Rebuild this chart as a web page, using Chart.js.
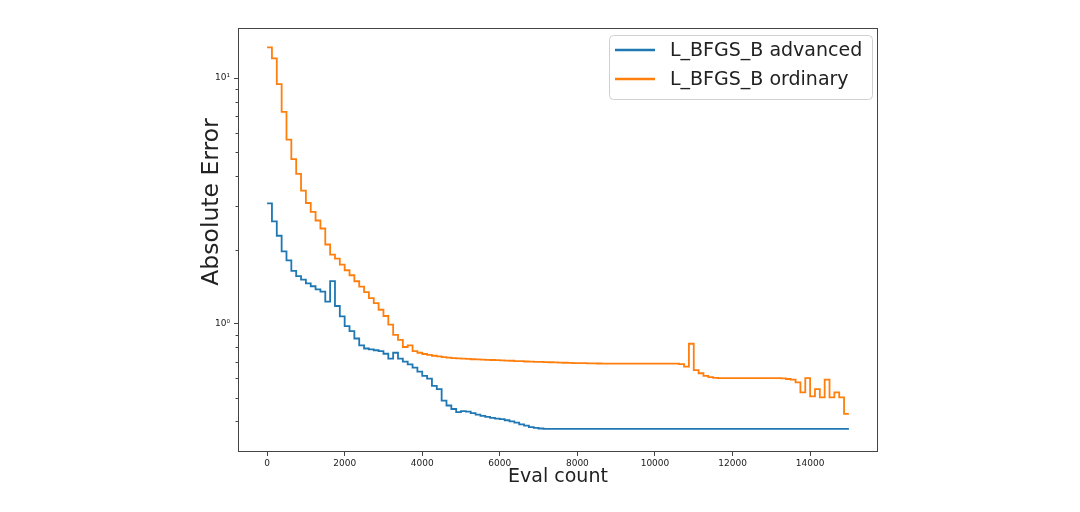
<!DOCTYPE html>
<html>
<head>
<meta charset="utf-8">
<script src="https://cdn.jsdelivr.net/npm/chart.js@4.4.0/dist/chart.umd.min.js"></script>
<style>
  html, body { margin: 0; background: #fff; }
</style>
</head>
<body>
<canvas id="chart" width="1080" height="512"></canvas>
<script>
// evaluation counts (x), one step every 125 evals
const evals = [
  0, 125, 250, 375, 500, 625, 750, 875, 1000, 1125, 1250, 1375, 1500, 1625, 1750, 1875,
  2000, 2125, 2250, 2375, 2500, 2625, 2750, 2875, 3000, 3125, 3250, 3375, 3500, 3625, 3750, 3875,
  4000, 4125, 4250, 4375, 4500, 4625, 4750, 4875, 5000, 5125, 5250, 5375, 5500, 5625, 5750, 5875,
  6000, 6125, 6250, 6375, 6500, 6625, 6750, 6875, 7000, 7125, 7250, 7375, 7500, 7625, 7750, 7875,
  8000, 8125, 8250, 8375, 8500, 8625, 8750, 8875, 9000, 9125, 9250, 9375, 9500, 9625, 9750, 9875,
  10000, 10125, 10250, 10375, 10500, 10625, 10750, 10875, 11000, 11125, 11250, 11375, 11500, 11625, 11750, 11875,
  12000, 12125, 12250, 12375, 12500, 12625, 12750, 12875, 13000, 13125, 13250, 13375, 13500, 13625, 13750, 13875,
  14000, 14125, 14250, 14375, 14500, 14625, 14750, 14875, 15000
]

const advanced = [
  3.09, 2.61, 2.28, 1.97, 1.81, 1.64, 1.56, 1.51, 1.46, 1.42, 1.38, 1.35, 1.23, 1.49, 1.18, 1.07,
  0.976, 0.932, 0.870, 0.815, 0.792, 0.785, 0.779, 0.773, 0.754, 0.720, 0.761, 0.720, 0.700, 0.683, 0.662, 0.638,
  0.613, 0.597, 0.558, 0.541, 0.486, 0.464, 0.449, 0.436, 0.440, 0.438, 0.432, 0.426, 0.421, 0.417, 0.413, 0.410,
  0.408, 0.404, 0.400, 0.395, 0.389, 0.384, 0.379, 0.376, 0.374, 0.373, 0.373, 0.373, 0.373, 0.373, 0.373, 0.373,
  0.373, 0.373, 0.373, 0.373, 0.373, 0.373, 0.373, 0.373, 0.373, 0.373, 0.373, 0.373, 0.373, 0.373, 0.373, 0.373,
  0.373, 0.373, 0.373, 0.373, 0.373, 0.373, 0.373, 0.373, 0.373, 0.373, 0.373, 0.373, 0.373, 0.373, 0.373, 0.373,
  0.373, 0.373, 0.373, 0.373, 0.373, 0.373, 0.373, 0.373, 0.373, 0.373, 0.373, 0.373, 0.373, 0.373, 0.373, 0.373,
  0.373, 0.373, 0.373, 0.373, 0.373, 0.373, 0.373, 0.373, 0.373
]

const ordinary = [
  13.35, 12.04, 9.46, 7.29, 5.62, 4.68, 4.07, 3.48, 3.10, 2.85, 2.63, 2.44, 2.10, 1.91, 1.84, 1.74,
  1.65, 1.574, 1.488, 1.414, 1.343, 1.270, 1.212, 1.139, 1.074, 0.991, 0.900, 0.859, 0.803, 0.815, 0.773, 0.761,
  0.752, 0.746, 0.740, 0.735, 0.731, 0.727, 0.724, 0.722, 0.720, 0.718, 0.716, 0.715, 0.713, 0.712, 0.711, 0.710,
  0.709, 0.707, 0.706, 0.704, 0.703, 0.701, 0.700, 0.699, 0.698, 0.697, 0.696, 0.695, 0.694, 0.693, 0.692, 0.691,
  0.690, 0.690, 0.689, 0.689, 0.688, 0.687, 0.687, 0.687, 0.687, 0.687, 0.687, 0.687, 0.687, 0.687, 0.687, 0.687,
  0.687, 0.687, 0.687, 0.687, 0.687, 0.684, 0.668, 0.828, 0.646, 0.628, 0.613, 0.605, 0.601, 0.600, 0.600, 0.600,
  0.600, 0.600, 0.600, 0.600, 0.600, 0.600, 0.600, 0.600, 0.600, 0.600, 0.598, 0.595, 0.591, 0.576, 0.525, 0.600,
  0.505, 0.541, 0.501, 0.591, 0.501, 0.525, 0.501, 0.429, 0.429
]

const xTicks = [0, 2000, 4000, 6000, 8000, 10000, 12000, 14000]
const yMajorTicks = [1, 10]
const yMinorTicks = [0.4, 0.5, 0.6, 0.7, 0.8, 0.9, 2, 3, 4, 5, 6, 7, 8, 9]
const yTickLabels = ['10⁰', '10¹']

const seriesNames = ['L_BFGS_B advanced', 'L_BFGS_B ordinary']
const seriesColors = ['#1f77b4', '#ff7f0e']

const FONT = 'DejaVu Sans'
const TEXT = '#222'
const AXIS = '#444'

// box round the plot, minor ticks on the log axis, y label, legend
const extras = {
  id: 'extras',
  afterDraw(chart) {
    const ctx = chart.ctx
    const a = chart.chartArea
    const ys = chart.scales.y
    ctx.save()

    ctx.strokeStyle = AXIS
    ctx.lineWidth = 1
    ctx.strokeRect(Math.round(a.left) + 0.5, Math.round(a.top) + 0.5,
      Math.round(a.right - a.left) - 1, Math.round(a.bottom - a.top) - 1)

    ctx.beginPath()
    yMinorTicks.forEach(v => {
      const py = Math.round(ys.getPixelForValue(v)) + 0.5
      ctx.moveTo(a.left - 2.5, py)
      ctx.lineTo(a.left, py)
    })
    ctx.stroke()

    ctx.fillStyle = TEXT
    ctx.font = '23.5px "' + FONT + '"'
    ctx.textAlign = 'center'
    ctx.textBaseline = 'middle'
    ctx.translate(212, 202)
    ctx.rotate(-Math.PI / 2)
    ctx.fillText('Absolute Error', 0, 0)
    ctx.restore()

    // legend
    ctx.save()
    const bx = a.right - 269, by = a.top + 7, bw = 263, bh = 64
    ctx.beginPath()
    ctx.roundRect(bx + 0.5, by + 0.5, bw, bh, 4)
    ctx.fillStyle = 'rgba(255,255,255,0.8)'
    ctx.fill()
    ctx.strokeStyle = '#d0d0d0'
    ctx.lineWidth = 1
    ctx.stroke()
    ctx.font = '19px "' + FONT + '"'
    ctx.textAlign = 'left'
    ctx.textBaseline = 'middle'
    seriesNames.forEach((name, i) => {
      const ly = by + 15 + i * 29
      ctx.strokeStyle = seriesColors[i]
      ctx.lineWidth = 2.5
      ctx.beginPath()
      ctx.moveTo(bx + 6, ly)
      ctx.lineTo(bx + 46, ly)
      ctx.stroke()
      ctx.fillStyle = TEXT
      ctx.fillText(name, bx + 61, ly + 1)
    })
    ctx.restore()
  }
}

new Chart(document.getElementById('chart'), {
  type: 'line',
  data: {
    datasets: seriesNames.map((name, i) => ({
      label: name,
      data: evals.map((x, j) => ({ x: x, y: (i === 0 ? advanced : ordinary)[j] })),
      borderColor: seriesColors[i],
      borderWidth: 1.8,
      stepped: true,
      pointRadius: 0,
      fill: false
    }))
  },
  options: {
    responsive: false,
    animation: false,
    devicePixelRatio: 1,
    layout: { padding: { top: 28, right: 202, bottom: 0, left: 0 } },
    plugins: {
      legend: { display: false },
      tooltip: { enabled: false }
    },
    scales: {
      x: {
        type: 'linear',
        min: -750,
        max: 15750,
        afterBuildTicks: s => { s.ticks = xTicks.map(v => ({ value: v })) },
        afterFit: s => { s.height = 60 },
        grid: { drawOnChartArea: false, tickLength: 4, tickColor: AXIS },
        border: { display: false },
        ticks: {
          autoSkip: false,
          maxRotation: 0,
          padding: 2,
          color: TEXT,
          font: { family: FONT, size: 9 },
          callback: v => String(v)
        },
        title: {
          display: true,
          text: 'Eval count',
          color: TEXT,
          font: { family: FONT, size: 19 },
          padding: { top: 0, bottom: 24 }
        }
      },
      y: {
        type: 'logarithmic',
        min: 0.309,
        max: 16.0,
        afterBuildTicks: s => { s.ticks = yMajorTicks.map(v => ({ value: v, major: true })) },
        afterFit: s => { s.width = 238 },
        grid: { drawOnChartArea: false, tickLength: 4, tickColor: AXIS },
        border: { display: false },
        ticks: {
          autoSkip: false,
          padding: 4,
          color: TEXT,
          font: { family: FONT, size: 9 },
          callback: v => yTickLabels[yMajorTicks.indexOf(v)] || ''
        }
      }
    }
  },
  plugins: [extras]
})
</script>
</body>
</html>
